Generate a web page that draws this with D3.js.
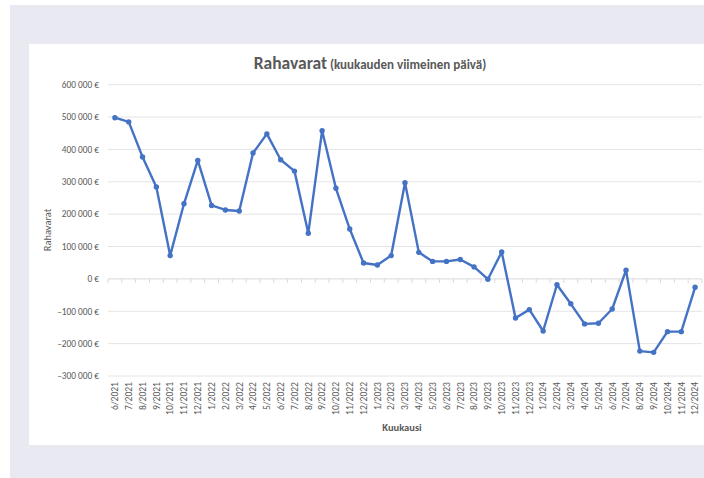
<!DOCTYPE html>
<html>
<head>
<meta charset="utf-8">
<script src="https://cdn.jsdelivr.net/npm/d3@7"></script>
<style>
  body { margin: 0; background: #fff; }
  svg { display: block; font-family: Carlito, "Liberation Sans Narrow", "Open Sans", sans-serif; }
</style>
</head>
<body>
<div id="chart-container"></div>
<script>
// months shown on the x axis
const months = [
  "6/2021", "7/2021", "8/2021", "9/2021", "10/2021", "11/2021", "12/2021",
  "1/2022", "2/2022", "3/2022", "4/2022", "5/2022", "6/2022", "7/2022", "8/2022", "9/2022", "10/2022", "11/2022", "12/2022",
  "1/2023", "2/2023", "3/2023", "4/2023", "5/2023", "6/2023", "7/2023", "8/2023", "9/2023", "10/2023", "11/2023", "12/2023",
  "1/2024", "2/2024", "3/2024", "4/2024", "5/2024", "6/2024", "7/2024", "8/2024", "9/2024", "10/2024", "11/2024", "12/2024"
];

// cash at month end (EUR)
const cash = [
  498000, 485000, 377000, 284000, 72000, 232000, 366000,
  227000, 213000, 210000, 389000, 448000, 368000, 333000, 141000, 458000, 280000, 154000, 49000,
  43000, 72000, 297000, 82000, 54000, 54000, 60000, 37000, -1000, 83000, -121000, -95000,
  -161000, -18000, -77000, -139000, -137000, -93000, 27000, -223000, -227000, -163000, -163000, -26000
];

const yTicks = [600000, 500000, 400000, 300000, 200000, 100000, 0, -100000, -200000, -300000];

const data = months.map((m, i) => ({ month: m, value: cash[i] }));

const W = 704, H = 478;
const svg = d3.select("#chart-container")
  .append("svg")
  .attr("width", W)
  .attr("height", H);

// background frame
svg.append("rect").attr("x", 10).attr("y", 5).attr("width", W - 10).attr("height", H - 5).attr("fill", "#e9e9f2");
svg.append("rect").attr("x", 29).attr("y", 44).attr("width", W - 29).attr("height", 401).attr("fill", "#fff");

const plot = { left: 108, right: 702, top: 84.7, bottom: 376 };

const x = d3.scaleBand()
  .domain(months)
  .range([plot.left, plot.right]);

const y = d3.scaleLinear()
  .domain([-300000, 600000])
  .range([plot.bottom, plot.top]);

const fmt = v => d3.format(",")(v).replace(/,/g, "\u00a0") + " €";

// gridlines
svg.append("g")
  .selectAll("line")
  .data(yTicks)
  .enter()
  .append("line")
  .attr("x1", plot.left)
  .attr("x2", plot.right)
  .attr("y1", d => y(d))
  .attr("y2", d => y(d))
  .attr("stroke", d => d === 0 ? "#d9d9d9" : "#e4e4e4")
  .attr("stroke-width", 1);

// y tick labels
svg.append("g")
  .selectAll("text")
  .data(yTicks)
  .enter()
  .append("text")
  .attr("x", 99)
  .attr("y", d => y(d))
  .attr("dy", "0.35em")
  .attr("text-anchor", "end")
  .style("font-size", "9.3px")
  .style("fill", "#595959")
  .text(d => fmt(d));

// category tick marks on the zero line
svg.append("g")
  .selectAll("line")
  .data(months.concat(["end"]))
  .enter()
  .append("line")
  .attr("x1", (d, i) => plot.left + i * x.step())
  .attr("x2", (d, i) => plot.left + i * x.step())
  .attr("y1", y(0))
  .attr("y2", y(0) + 4)
  .attr("stroke", "#d9d9d9");

// x tick labels
svg.append("g")
  .selectAll("text")
  .data(months)
  .enter()
  .append("text")
  .attr("transform", d => `translate(${x(d) + x.bandwidth() / 2 + 3.3},${plot.bottom + 6}) rotate(-90)`)
  .attr("text-anchor", "end")
  .style("font-size", "9.6px")
  .style("fill", "#595959")
  .text(d => d);

// line
const line = d3.line()
  .x(d => x(d.month) + x.bandwidth() / 2)
  .y(d => y(d.value));

svg.append("path")
  .datum(data)
  .attr("d", line)
  .attr("fill", "none")
  .attr("stroke", "#4472c4")
  .attr("stroke-width", 2.4)
  .attr("stroke-linejoin", "round");

svg.append("g")
  .selectAll("circle")
  .data(data)
  .enter()
  .append("circle")
  .attr("cx", d => x(d.month) + x.bandwidth() / 2)
  .attr("cy", d => y(d.value))
  .attr("r", 2.7)
  .attr("fill", "#4472c4");

// title
const title = svg.append("text")
  .attr("x", 370)
  .attr("y", 69)
  .attr("text-anchor", "middle")
  .style("fill", "#595959");
title.append("tspan").style("font-size", "17.5px").style("font-weight", "bold").text("Rahavarat");
title.append("tspan").style("font-size", "13px").style("font-weight", "bold").text(" (kuukauden viimeinen päivä)");

// axis titles
svg.append("text")
  .attr("transform", `translate(51,230) rotate(-90)`)
  .attr("text-anchor", "middle")
  .style("font-size", "10.5px")
  .style("fill", "#595959")
  .text("Rahavarat");

svg.append("text")
  .attr("x", 402)
  .attr("y", 431)
  .attr("text-anchor", "middle")
  .style("font-size", "10.5px")
  .style("font-weight", "bold")
  .style("fill", "#595959")
  .text("Kuukausi");
</script>
</body>
</html>
